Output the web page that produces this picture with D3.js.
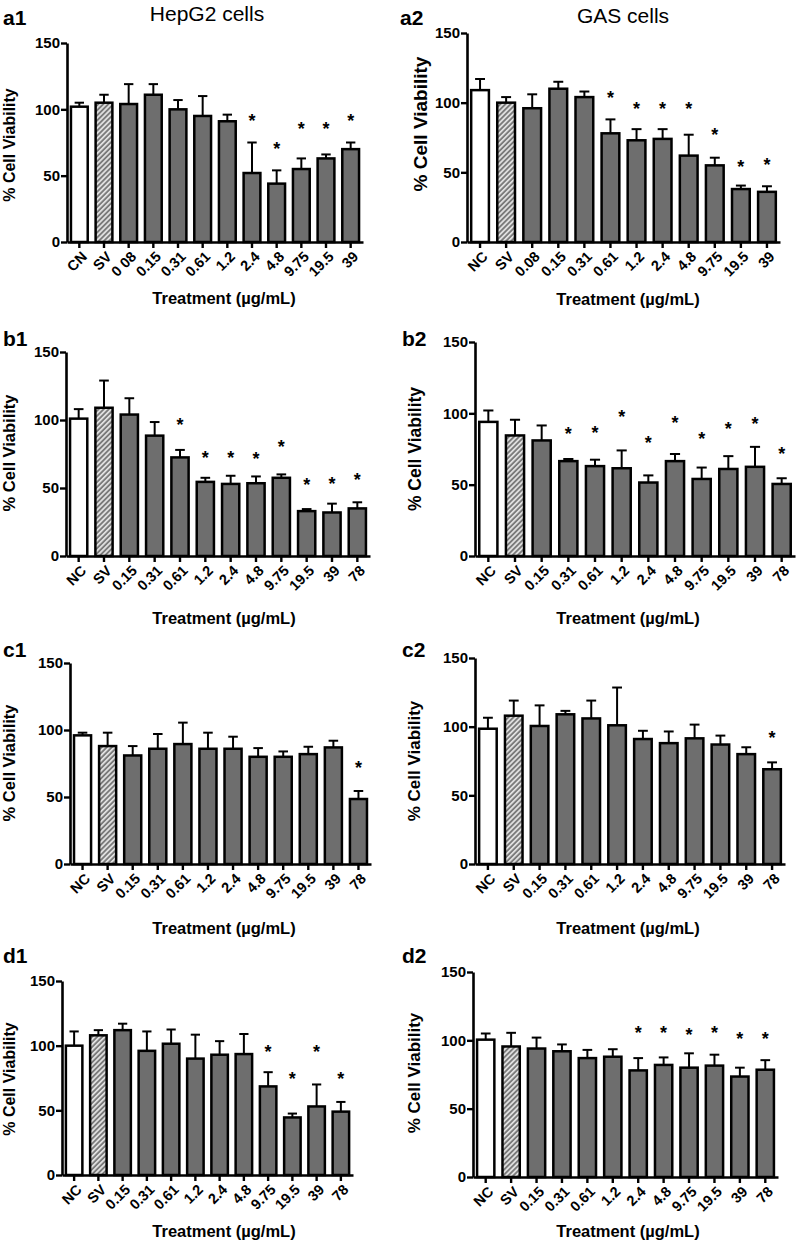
<!DOCTYPE html>
<html>
<head>
<meta charset="utf-8">
<script src="https://cdn.jsdelivr.net/npm/d3@7"></script>
<style>
body { margin: 0; background: #fff; }
svg text { font-family: Arial, "Liberation Sans", Helvetica, sans-serif; fill: #000; }
</style>
</head>
<body>
<svg id="chart" width="796" height="1245"></svg>
<script>
// Tick labels
let labelsA1 = ['CN', 'SV', '0 08', '0.15', '0.31', '0.61', '1.2', '2.4', '4.8', '9.75', '19.5', '39'];
let labelsA2 = ['NC', 'SV', '0.08', '0.15', '0.31', '0.61', '1.2', '2.4', '4.8', '9.75', '19.5', '39'];
let labelsBCD = ['NC', 'SV', '0.15', '0.31', '0.61', '1.2', '2.4', '4.8', '9.75', '19.5', '39', '78'];
let yTicks = [0, 50, 100, 150];

// Means, SD (upper error bar) and where the significance star sits (null = no star)
let meansA1 = [102, 105, 104, 111, 100, 95, 91, 52, 44, 55, 63, 70];
let sdA1 = [3, 6, 15, 8, 7, 15, 5, 23, 10, 8, 3, 5];
let starsA1 = [null, null, null, null, null, null, null, 94, 73, 88, 88, 94];

let meansA2 = [109, 100, 96, 110, 104, 78, 73, 74, 62, 55, 38, 36];
let sdA2 = [8, 4, 10, 5, 4, 10, 8, 7, 15, 5.5, 2.5, 4];
let starsA2 = [null, null, null, null, null, 106, 98, 98, 98, 80, 57, 58];

let meansB1 = [101, 109, 104, 88.5, 72.5, 54.5, 53, 53.5, 57.5, 33, 32, 35];
let sdB1 = [7, 20, 12, 10, 5.5, 3, 6, 5, 2.5, 1.5, 6.5, 4.5];
let starsB1 = [null, null, null, null, 99, 75, 75, 74, 83, 55, 56, 59];

let meansB2 = [94, 84.5, 81, 66.5, 63, 61.5, 51.5, 66.5, 54, 61, 62.5, 50.5];
let sdB2 = [8, 11, 10.5, 1.5, 4.5, 12.5, 5, 5, 8, 9, 14, 4];
let starsB2 = [null, null, null, 88, 89, 100, 82, 96, 85, 92, 95, 74];

let meansC1 = [96, 88, 81, 86, 89.5, 86, 86, 80, 80, 82, 87, 48.5];
let sdC1 = [2, 10, 7, 11, 16, 12, 9, 6.5, 4, 5.5, 5, 6];
let starsC1 = [null, null, null, null, null, null, null, null, null, null, null, 75];

let meansC2 = [98.5, 108, 100.5, 109, 106, 101, 91, 88, 91.5, 87, 80, 69];
let sdC2 = [8, 11, 15, 2.5, 13, 27.5, 6, 8.5, 10, 6.5, 5, 5];
let starsC2 = [null, null, null, null, null, null, null, null, null, null, null, 95];

let meansD1 = [100, 108, 112, 96, 101.5, 90, 93, 93.5, 68.5, 44.5, 53, 49];
let sdD1 = [11, 4, 5, 15, 11, 18.5, 10.5, 15.5, 11, 3, 17, 7.5];
let starsD1 = [null, null, null, null, null, null, null, null, 98, 77, 98, 77];

let meansD2 = [100.5, 95.5, 94, 92, 87, 88, 78, 82, 80, 81.5, 73.5, 78.5];
let sdD2 = [4.5, 10, 8, 5, 6, 5.5, 9, 5.5, 10.5, 8, 6.5, 7];
let starsD2 = [null, null, null, null, null, null, 108, 108, 107, 108, 104, 104];

// Panel layout (pixel geometry only)
let panels = [
    { tag: 'a1', title: 'HepG2 cells', titleX: 207, titleY: 21, labels: labelsA1, means: meansA1, sd: sdA1, stars: starsA1,
      x0: 67, x1: 363, y0: 242, yTop: 43, tagX: 3, tagY: 25, ytX: 9, ytY: 145, ytSize: 16, xtX: 224, xtY: 304 },
    { tag: 'a2', title: 'GAS cells', titleX: 623, titleY: 23, labels: labelsA2, means: meansA2, sd: sdA2, stars: starsA2,
      x0: 467, x1: 780, y0: 242, yTop: 33, tagX: 400, tagY: 25, ytX: 420, ytY: 124, ytSize: 19, xtX: 628, xtY: 305 },
    { tag: 'b1', labels: labelsBCD, means: meansB1, sd: sdB1, stars: starsB1,
      x0: 66, x1: 370, y0: 556, yTop: 352, tagX: 3, tagY: 346, ytX: 9, ytY: 453, ytSize: 16.5, xtX: 224, xtY: 624 },
    { tag: 'b2', labels: labelsBCD, means: meansB2, sd: sdB2, stars: starsB2,
      x0: 475, x1: 795, y0: 556, yTop: 342, tagX: 402, tagY: 346, ytX: 415, ytY: 449, ytSize: 17.5, xtX: 628, xtY: 624 },
    { tag: 'c1', labels: labelsBCD, means: meansC1, sd: sdC1, stars: starsC1,
      x0: 70, x1: 371, y0: 864, yTop: 663, tagX: 3, tagY: 657, ytX: 9, ytY: 763, ytSize: 16.5, xtX: 224, xtY: 934 },
    { tag: 'c2', labels: labelsBCD, means: meansC2, sd: sdC2, stars: starsC2,
      x0: 475, x1: 785, y0: 864, yTop: 658, tagX: 402, tagY: 657, ytX: 414, ytY: 761, ytSize: 17, xtX: 628, xtY: 934 },
    { tag: 'd1', labels: labelsBCD, means: meansD1, sd: sdD1, stars: starsD1,
      x0: 62, x1: 353, y0: 1175, yTop: 981, tagX: 3, tagY: 963, ytX: 9, ytY: 1079, ytSize: 16, xtX: 224, xtY: 1237 },
    { tag: 'd2', labels: labelsBCD, means: meansD2, sd: sdD2, stars: starsD2,
      x0: 473, x1: 778, y0: 1177, yTop: 972, tagX: 402, tagY: 963, ytX: 414, ytY: 1073, ytSize: 17, xtX: 628, xtY: 1237 }
];

let svg = d3.select('#chart');

// Hatch for the SV (solvent) bar
let pat = svg.append('defs').append('pattern')
    .attr('id', 'hatch')
    .attr('patternUnits', 'userSpaceOnUse')
    .attr('width', 3.6)
    .attr('height', 3.6)
    .attr('patternTransform', 'rotate(45)');
pat.append('rect').attr('width', 3.6).attr('height', 3.6).attr('fill', '#7a7a7a');
pat.append('rect').attr('width', 1.7).attr('height', 3.6).attr('fill', '#e4e4e4');

let barFill = (i) => (i === 0 ? '#ffffff' : i === 1 ? 'url(#hatch)' : '#6e6e6e');

let drawPanel = (p) => {
    let g = svg.append('g');
    let rows = p.labels.map((label, i) => ({ label, mean: p.means[i], sd: p.sd[i], star: p.stars[i], i }));

    let x = d3.scaleBand()
        .domain(p.labels)
        .range([p.x0, p.x1])
        .paddingInner(0.32)
        .paddingOuter(0.16);
    let y = d3.scaleLinear().domain([0, 150]).range([p.y0, p.yTop]);
    let cx = (d) => x(d.label) + x.bandwidth() / 2;
    let cap = x.bandwidth() * 0.28;

    // error bars (upper only)
    let err = g.selectAll('g.err').data(rows).enter().append('g')
        .attr('stroke', '#000').attr('stroke-width', 2);
    err.append('line')
        .attr('x1', cx).attr('x2', cx)
        .attr('y1', (d) => y(d.mean)).attr('y2', (d) => y(d.mean + d.sd));
    err.append('line')
        .attr('x1', (d) => cx(d) - cap).attr('x2', (d) => cx(d) + cap)
        .attr('y1', (d) => y(d.mean + d.sd)).attr('y2', (d) => y(d.mean + d.sd));

    // bars
    g.selectAll('rect.bar').data(rows).enter().append('rect')
        .attr('x', (d) => x(d.label))
        .attr('y', (d) => y(d.mean))
        .attr('width', x.bandwidth())
        .attr('height', (d) => y(0) - y(d.mean))
        .attr('fill', (d) => barFill(d.i))
        .attr('stroke', '#000')
        .attr('stroke-width', 2.5);

    // stars
    g.selectAll('text.star').data(rows.filter((d) => d.star !== null)).enter().append('text')
        .attr('x', cx)
        .attr('y', (d) => y(d.star) + 10)
        .attr('text-anchor', 'middle')
        .attr('font-size', 18)
        .attr('font-weight', 'bold')
        .text('*');

    // y axis
    let ya = g.append('g')
        .attr('transform', `translate(${p.x0},0)`)
        .call(d3.axisLeft(y).tickValues(yTicks).tickSize(6).tickSizeOuter(0).tickPadding(1));
    ya.select('.domain').attr('stroke-width', 2.6);
    ya.selectAll('.tick line').attr('stroke-width', 2.4);
    ya.selectAll('.tick text').attr('font-size', 15).attr('font-weight', 'bold')
        .attr('font-family', 'Arial, "Liberation Sans", sans-serif');

    // x axis
    let xa = g.append('g')
        .attr('transform', `translate(0,${p.y0})`)
        .call(d3.axisBottom(x).tickSize(6).tickSizeOuter(0));
    xa.select('.domain').attr('stroke-width', 2.6);
    xa.selectAll('.tick line').attr('stroke-width', 2.4);
    xa.selectAll('.tick text')
        .attr('font-size', 14.5).attr('font-weight', 'bold')
        .attr('font-family', 'Arial, "Liberation Sans", sans-serif')
        .attr('text-anchor', 'end')
        .attr('x', 0).attr('y', 0).attr('dy', '0.35em')
        .attr('transform', 'translate(5,12) rotate(-45)');

    // titles
    g.append('text')
        .attr('x', p.tagX).attr('y', p.tagY)
        .attr('font-size', 21).attr('font-weight', 'bold')
        .text(p.tag);
    if (p.title) {
        g.append('text')
            .attr('x', p.titleX).attr('y', p.titleY)
            .attr('text-anchor', 'middle')
            .attr('font-size', 21)
            .text(p.title);
    }
    g.append('text')
        .attr('transform', `translate(${p.ytX},${p.ytY}) rotate(-90)`)
        .attr('text-anchor', 'middle')
        .attr('dy', '0.35em')
        .attr('font-size', p.ytSize).attr('font-weight', 'bold')
        .text('% Cell Viability');
    g.append('text')
        .attr('x', p.xtX).attr('y', p.xtY)
        .attr('text-anchor', 'middle')
        .attr('font-size', 16.5).attr('font-weight', 'bold')
        .text('Treatment (µg/mL)');
};

panels.forEach(drawPanel);
</script>
</body>
</html>
